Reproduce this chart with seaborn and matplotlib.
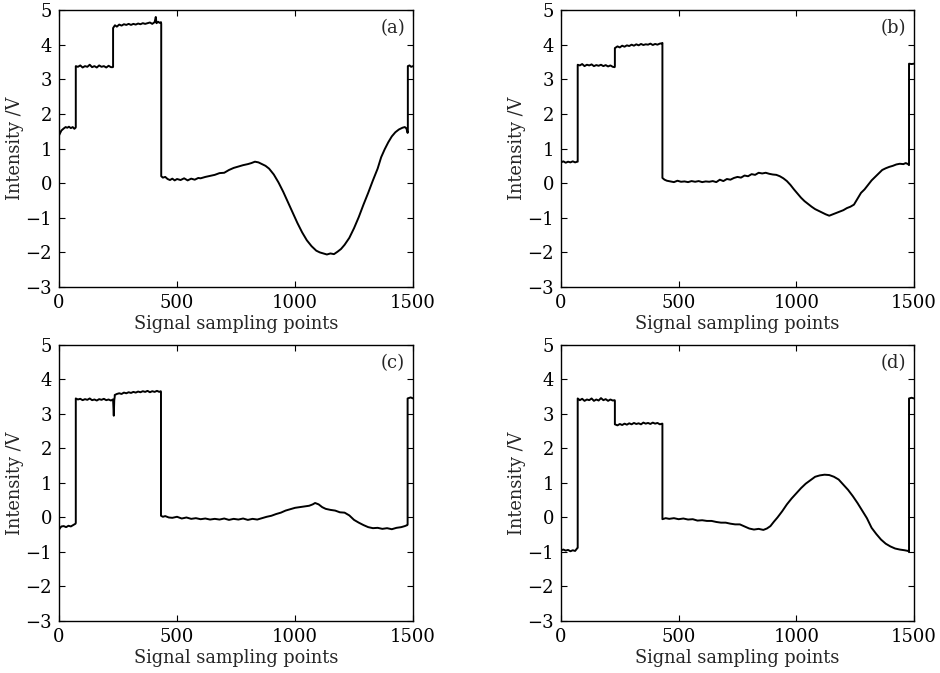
import numpy as np
import pandas as pd
import matplotlib
matplotlib.use("Agg")
import matplotlib.pyplot as plt
import seaborn as sns

# ---- data (x = sampling point, y = intensity / V) ----
a_x = [0, 5, 10, 15, 20, 28, 35, 42, 50, 58, 65, 70, 71, 71,
       80, 90, 100, 110, 120, 130, 140, 150, 160, 170, 180, 190, 200, 210, 220, 228, 229, 229,
       237, 245, 255, 265, 275, 285, 295, 305, 315, 325, 335, 345, 355, 365, 375, 385, 395, 405, 410, 413,
       420, 426, 432, 433, 433,
       440, 450, 460, 470, 480, 490, 500, 515, 530, 545, 560, 575, 590, 600,
       620, 640, 660, 680, 700, 720, 740, 760, 780, 800, 815, 830, 845, 860, 875, 890,
       910, 930, 950, 970, 990, 1010, 1030, 1050, 1070, 1090, 1105, 1120, 1135, 1150,
       1165, 1180, 1195, 1210, 1230, 1250, 1270, 1290, 1310, 1330, 1350, 1365, 1380, 1395, 1410, 1425,
       1440, 1455, 1465, 1472, 1477, 1478, 1478, 1485, 1492, 1500]
a_y = [1.38, 1.45, 1.52, 1.55, 1.58, 1.62, 1.6, 1.63, 1.59, 1.62, 1.57, 1.6, 1.62, 3.38,
       3.36, 3.4, 3.34, 3.38, 3.36, 3.42, 3.35, 3.38, 3.34, 3.4, 3.36, 3.38, 3.34, 3.39, 3.35, 3.35, 3.36, 4.48,
       4.56, 4.52, 4.58, 4.55, 4.59, 4.57, 4.6, 4.57, 4.6, 4.58, 4.61, 4.59, 4.62, 4.6, 4.62, 4.64, 4.6, 4.65,
       4.8, 4.62, 4.66, 4.63, 4.65, 4.6, 0.2,
       0.16, 0.18, 0.12, 0.09, 0.13, 0.08, 0.12, 0.09, 0.14, 0.08, 0.13, 0.1, 0.15, 0.14,
       0.18, 0.21, 0.24, 0.29, 0.3, 0.38, 0.44, 0.48, 0.52, 0.55, 0.58, 0.62, 0.6, 0.55, 0.5, 0.42,
       0.25, 0.02, -0.25, -0.55, -0.85, -1.15, -1.42, -1.65, -1.82, -1.95, -2.0, -2.03, -2.06, -2.03,
       -2.05, -1.98, -1.9, -1.78, -1.58, -1.3, -0.98, -0.62, -0.28, 0.08, 0.42, 0.75, 0.98, 1.18, 1.35, 1.47,
       1.55, 1.6, 1.62, 1.58, 1.45, 1.5, 3.38, 3.4, 3.36, 3.38]

b_x = [0, 10, 20, 30, 40, 50, 60, 69, 71, 71,
       80, 90, 100, 110, 120, 130, 140, 150, 160, 170, 180, 190, 200, 210, 220, 228, 229, 229,
       240, 250, 260, 270, 280, 290, 300, 310, 320, 330, 340, 350, 360, 370, 380, 390, 400, 410, 420, 430,
       431, 431,
       440, 450, 465, 480, 495, 510, 525, 540, 555, 570, 585, 600, 615, 630, 645, 660, 675, 690, 705, 720,
       735, 750, 765, 780, 795, 810, 825, 840, 855, 870, 885, 900, 915, 930, 945, 960, 975, 990, 1005,
       1020, 1035, 1050, 1065, 1080, 1095, 1110, 1125, 1140, 1155, 1170, 1185, 1200, 1215, 1230, 1245,
       1260, 1275, 1290, 1305, 1320, 1335, 1350, 1365, 1380, 1395, 1410, 1425, 1440, 1455,
       1465, 1475, 1479, 1479, 1490, 1500]
b_y = [0.6, 0.63, 0.59, 0.62, 0.6, 0.63, 0.6, 0.62, 0.62, 3.42,
       3.4, 3.44, 3.38, 3.42, 3.4, 3.43, 3.38, 3.41, 3.39, 3.42, 3.38, 3.41, 3.37, 3.4, 3.36, 3.35, 3.38, 3.9,
       3.95, 3.92, 3.97, 3.94, 3.98, 3.96, 4.0, 3.97, 4.01, 3.98, 4.02, 3.99, 4.01, 4.0, 4.03, 3.99, 4.02,
       4.0, 4.03, 4.04,
       4.05, 0.15,
       0.1, 0.07, 0.05, 0.03, 0.07, 0.04, 0.05, 0.03, 0.06, 0.04, 0.06, 0.03, 0.05, 0.04, 0.06, 0.03, 0.1,
       0.06, 0.12, 0.1, 0.15, 0.18, 0.16, 0.22, 0.2, 0.26, 0.24, 0.3, 0.28, 0.3, 0.27, 0.25, 0.24, 0.2,
       0.14, 0.06, -0.05, -0.18, -0.3, -0.42, -0.52, -0.6, -0.68, -0.75, -0.8, -0.85, -0.9, -0.94, -0.9,
       -0.86, -0.82, -0.78, -0.72, -0.68, -0.62, -0.45, -0.28, -0.18, -0.05, 0.08, 0.18, 0.28, 0.38,
       0.43, 0.47, 0.5, 0.54, 0.56, 0.55,
       0.58, 0.55, 0.52, 3.45, 3.44, 3.45]

c_x = [0, 5, 10, 20, 30, 40, 50, 60, 70, 71, 71,
       80, 90, 100, 110, 120, 130, 140, 150, 160, 170, 180, 190, 200, 210, 220,
       228, 229, 232, 234, 236, 236,
       245, 255, 265, 275, 285, 295, 305, 315, 325, 335, 345, 355, 365, 375, 385, 395, 405, 415, 425,
       431, 432, 432,
       440, 450, 465, 480,
       500, 520, 540, 560, 580, 600, 620, 640, 660, 680, 700, 720, 740, 760, 780, 800, 820, 840, 860,
       880, 900, 920, 940, 960, 980, 1000, 1020, 1040, 1060,
       1075, 1085, 1100, 1115, 1130,
       1150, 1170, 1190, 1210, 1230, 1250, 1270, 1290, 1310, 1330, 1350, 1370, 1390, 1410, 1430, 1450,
       1465, 1476, 1477, 1477, 1490, 1500]
c_y = [-0.35, -0.3, -0.26, -0.25, -0.28, -0.24, -0.26, -0.22, -0.18, -0.15, 3.45,
       3.42, 3.44, 3.4, 3.43, 3.41, 3.45, 3.4, 3.42, 3.39, 3.43, 3.41, 3.44, 3.4, 3.42, 3.39,
       3.42, 3.42, 2.95, 3.4, 3.5, 3.55,
       3.58, 3.6, 3.58, 3.62, 3.6, 3.63, 3.61, 3.64, 3.62, 3.65, 3.63, 3.66, 3.64, 3.67, 3.63, 3.66, 3.64,
       3.67, 3.64,
       3.66, 3.64, 0.05,
       0.02, 0.04, 0.0, -0.01,
       0.02, -0.03, 0.0, -0.04, -0.02, -0.05, -0.03, -0.06, -0.04, -0.06, -0.03, -0.07, -0.04, -0.06,
       -0.03, -0.07, -0.04, -0.06, -0.02, 0.02, 0.05, 0.1, 0.14, 0.2, 0.24, 0.28, 0.3, 0.32, 0.34,
       0.38, 0.42, 0.38, 0.3, 0.25,
       0.22, 0.2, 0.15, 0.14, 0.06, -0.07, -0.15, -0.22, -0.28, -0.31, -0.3, -0.33, -0.31, -0.34, -0.3,
       -0.28,
       -0.25, -0.22, -0.2, 3.45, 3.48, 3.45]

d_x = [0, 10, 20, 30, 40, 50, 60, 68, 71, 71,
       80, 90, 100, 110, 120, 130, 140, 150, 160, 170, 180, 190, 200, 210, 220,
       228, 229, 229,
       240, 250, 260, 270, 280, 290, 300, 310, 320, 330, 340, 350, 360, 370, 380, 390, 400, 410, 420, 430,
       431, 431,
       445, 460,
       480, 500, 520, 540, 560, 580, 600, 620, 640, 660, 680, 700, 720, 740, 760, 780, 800, 820, 840, 860,
       875, 890, 905,
       920, 940, 960, 980, 1000, 1020, 1040, 1060, 1080, 1100, 1120, 1140, 1160, 1180, 1200, 1220, 1240,
       1260, 1280, 1300, 1320, 1340, 1360, 1380, 1400, 1420, 1440, 1460,
       1475, 1478, 1479, 1479, 1490, 1500]
d_y = [-0.95, -0.93, -0.96, -0.94, -0.98, -0.95, -0.97, -0.9, -0.88, 3.45,
       3.4, 3.44, 3.38, 3.42, 3.4, 3.45, 3.38, 3.42, 3.39, 3.46, 3.4, 3.43, 3.38, 3.42, 3.39,
       3.4, 3.38, 2.7,
       2.67, 2.71, 2.68, 2.72, 2.69, 2.73, 2.7, 2.74, 2.71, 2.73, 2.7, 2.75, 2.72, 2.74, 2.71, 2.75, 2.72,
       2.74, 2.7, 2.72,
       2.72, -0.05,
       -0.02, -0.04,
       -0.02, -0.05, -0.03, -0.06, -0.05, -0.09, -0.08, -0.1, -0.1, -0.13, -0.15, -0.15, -0.18, -0.2,
       -0.2, -0.26, -0.32, -0.35, -0.33, -0.36,
       -0.32, -0.25, -0.12,
       0.0, 0.18, 0.38, 0.55, 0.7, 0.85, 0.98, 1.08, 1.18, 1.22, 1.24, 1.23, 1.18, 1.1, 0.95, 0.8, 0.62,
       0.42, 0.2, -0.02, -0.3, -0.48, -0.64, -0.76, -0.84, -0.9, -0.93, -0.95,
       -0.97, -0.96, -1.0, 3.45, 3.47, 3.45]

panel_labels = ["(a)", "(b)", "(c)", "(d)"]
x_ticks = [0, 500, 1000, 1500]
y_ticks = [-3, -2, -1, 0, 1, 2, 3, 4, 5]
x_label = "Signal sampling points"
y_label = "Intensity /V"

sns.set_theme(style="ticks")
plt.rcParams["font.family"] = ["DejaVu Serif"]
plt.rcParams["axes.unicode_minus"] = True

fig = plt.figure(figsize=(9.4, 6.73), dpi=100)
positions = [
    [0.0628, 0.5735, 0.3766, 0.4116],
    [0.5968, 0.5735, 0.3755, 0.4116],
    [0.0628, 0.0773, 0.3766, 0.4101],
    [0.5968, 0.0773, 0.3755, 0.4101],
]
series = [(a_x, a_y), (b_x, b_y), (c_x, c_y), (d_x, d_y)]

for pos, (xs, ys), lab in zip(positions, series, panel_labels):
    ax = fig.add_axes(pos)
    df = pd.DataFrame({"x": xs, "y": ys})
    sns.lineplot(data=df, x="x", y="y", ax=ax, estimator=None, sort=False,
                 color="black", linewidth=1.4)
    ax.set_xlim(0, 1500)
    ax.set_ylim(-3, 5)
    ax.set_xticks(x_ticks)
    ax.set_yticks(y_ticks)
    ax.tick_params(direction="in", top=True, right=True, length=4.5, width=0.8,
                   labelsize=13, colors="black", pad=5)
    for s in ax.spines.values():
        s.set_linewidth(1.0)
        s.set_color("black")
    ax.set_xlabel(x_label, fontsize=12.8, labelpad=2)
    ax.set_ylabel(y_label, fontsize=12.8, labelpad=1)
    ax.text(0.978, 0.935, lab, transform=ax.transAxes, ha="right", va="center", fontsize=13)

fig.savefig("out.png", dpi=100)
